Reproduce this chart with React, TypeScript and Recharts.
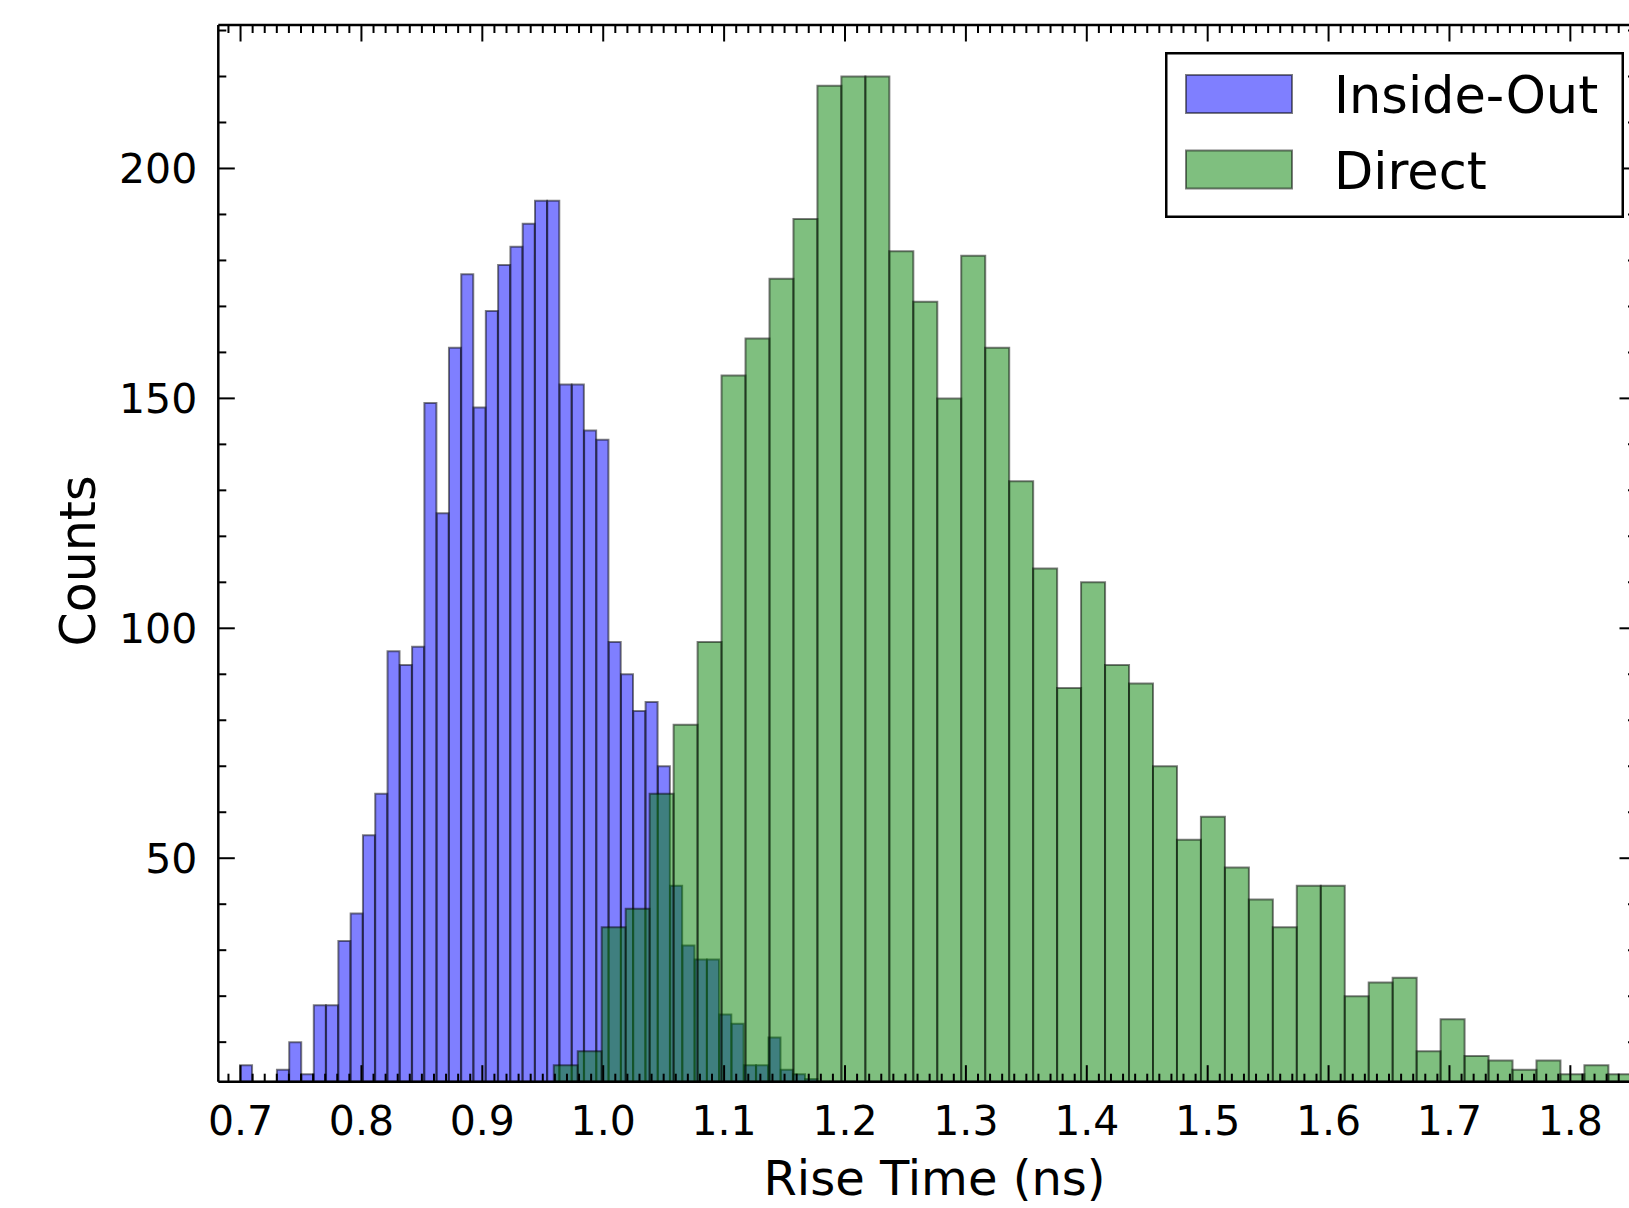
import React from "react";
import { BarChart, Bar, XAxis, YAxis } from "recharts";

// histogram bins
const insideOutStart = 0.6996;
const insideOutWidth = 0.010165;
const insideOutCounts = [
  5, 0, 0, 4, 10, 3, 18, 18, 32, 38,
  55, 64, 95, 92, 96, 149, 125, 161, 177, 148,
  169, 179, 183, 188, 193, 193, 153, 153, 143, 141,
  97, 90, 82, 84, 70, 44, 31, 28, 28, 16,
  14, 5, 5, 11, 4, 3, 2, 1, 0, 1,
];

const directStart = 0.9591;
const directWidth = 0.019826;
const directCounts = [
  5, 8, 35, 39, 64, 79, 97, 155, 163, 176,
  189, 218, 220, 220, 182, 171, 150, 181, 161, 132,
  113, 87, 110, 92, 88, 70, 54, 59, 48, 41,
  35, 44, 44, 20, 23, 24, 8, 15, 7, 6,
  4, 6, 3, 5, 3,
];

const seriesNames = ["Inside-Out", "Direct"];

const xMajorTicks = [0.7, 0.8, 0.9, 1.0, 1.1, 1.2, 1.3, 1.4, 1.5, 1.6, 1.7, 1.8];
const xTickLabels = ["0.7", "0.8", "0.9", "1.0", "1.1", "1.2", "1.3", "1.4", "1.5", "1.6", "1.7", "1.8"];
const yMajorTicks = [50, 100, 150, 200];
const yTickLabels = ["50", "100", "150", "200"];

const X_DOMAIN: [number, number] = [0.6816, 1.8543];
const Y_DOMAIN: [number, number] = [1.4, 231.2];

const xMinorTicks = Array.from({ length: 117 }, (_, i) => Math.round((0.69 + i * 0.01) * 100) / 100);
const yMinorTicks = Array.from({ length: 23 }, (_, i) => (i + 1) * 10);

const insideOutData = insideOutCounts.map((c, i) => ({
  x: insideOutStart + (i + 0.5) * insideOutWidth,
  count: c,
}));
const directData = directCounts.map((c, i) => ({
  x: directStart + (i + 0.5) * directWidth,
  count: c,
}));

const W = 1700;
const H = 1208;
const FONT = "DejaVu Sans";
const MAJOR = 16.5;
const MINOR = 8;

const majorIndex = (list: number[], v: number) => list.findIndex((t) => Math.abs(t - v) < 1e-6);

function BottomTick(props: any) {
  const { x, y, payload } = props;
  const idx = majorIndex(xMajorTicks, payload.value);
  return (
    <g>
      <line x1={x} x2={x} y1={y} y2={y - (idx >= 0 ? MAJOR : MINOR)} stroke="#000" strokeWidth={2} />
      {idx >= 0 && (
        <text x={x} y={y + 53} textAnchor="middle" fontSize={41} fontFamily={FONT} fill="#000">
          {xTickLabels[idx]}
        </text>
      )}
    </g>
  );
}

function TopTick(props: any) {
  const { x, y, payload } = props;
  const idx = majorIndex(xMajorTicks, payload.value);
  return <line x1={x} x2={x} y1={y} y2={y + (idx >= 0 ? MAJOR : MINOR)} stroke="#000" strokeWidth={2} />;
}

function LeftTick(props: any) {
  const { x, y, payload } = props;
  const idx = majorIndex(yMajorTicks, payload.value);
  return (
    <g>
      <line x1={x} x2={x + (idx >= 0 ? MAJOR : MINOR)} y1={y} y2={y} stroke="#000" strokeWidth={2} />
      {idx >= 0 && (
        <text x={x - 21} y={y + 15} textAnchor="end" fontSize={41} fontFamily={FONT} fill="#000">
          {yTickLabels[idx]}
        </text>
      )}
    </g>
  );
}

function RightTick(props: any) {
  const { x, y, payload } = props;
  const idx = majorIndex(yMajorTicks, payload.value);
  return <line x1={x} x2={x - (idx >= 0 ? MAJOR : MINOR)} y1={y} y2={y} stroke="#000" strokeWidth={2} />;
}

function XTitle() {
  return (
    <text x={934.5} y={1195} textAnchor="middle" fontSize={48} fontFamily={FONT} fill="#000">
      Rise Time (ns)
    </text>
  );
}

function YTitle() {
  return (
    <text x={95} y={561} transform="rotate(-90 95 561)" textAnchor="middle" fontSize={49} fontFamily={FONT} fill="#000">
      Counts
    </text>
  );
}

function axes(visible: boolean) {
  const line = visible ? { stroke: "#000", strokeWidth: 2.5 } : false;
  return [
    <XAxis
      key="xb"
      xAxisId="bottom"
      dataKey="x"
      type="number"
      domain={X_DOMAIN}
      allowDataOverflow
      ticks={xMinorTicks}
      interval={0}
      height={126.3}
      tickSize={0}
      tickMargin={0}
      tickLine={false}
      axisLine={line}
      tick={visible ? BottomTick : false}
      label={visible ? <XTitle /> : undefined}
    />,
    <XAxis
      key="xt"
      xAxisId="top"
      orientation="top"
      dataKey="x"
      type="number"
      domain={X_DOMAIN}
      allowDataOverflow
      ticks={xMinorTicks}
      interval={0}
      height={5}
      tickSize={0}
      tickMargin={0}
      tickLine={false}
      axisLine={line}
      tick={visible ? TopTick : false}
    />,
    <YAxis
      key="yl"
      yAxisId="left"
      type="number"
      domain={Y_DOMAIN}
      allowDataOverflow
      ticks={yMinorTicks}
      interval={0}
      width={218.3}
      tickSize={0}
      tickMargin={0}
      tickLine={false}
      axisLine={line}
      tick={visible ? LeftTick : false}
      label={visible ? <YTitle /> : undefined}
    />,
    <YAxis
      key="yr"
      yAxisId="right"
      orientation="right"
      type="number"
      domain={Y_DOMAIN}
      allowDataOverflow
      ticks={yMinorTicks}
      interval={0}
      width={64}
      tickSize={0}
      tickMargin={0}
      tickLine={false}
      axisLine={line}
      tick={visible ? RightTick : false}
    />,
  ];
}

const layer: React.CSSProperties = { position: "absolute", left: 0, top: 0 };
const margin = { top: 20, right: 0, bottom: 0, left: 0 };

function Legend() {
  const items = [
    { name: seriesNames[0], fill: "#0000ff" },
    { name: seriesNames[1], fill: "#008000" },
  ];
  return (
    <svg style={{ position: "absolute", left: 1165, top: 52 }} width={460} height={168}>
      <rect x={1.25} y={1.25} width={456.5} height={163.5} fill="#fff" stroke="#000" strokeWidth={2.5} />
      {items.map((it, i) => (
        <g key={it.name}>
          <rect x={21} y={23 + i * 75.5} width={106} height={38} fill={it.fill} fillOpacity={0.5} stroke="#000" strokeOpacity={0.5} strokeWidth={2} />
          <text x={169} y={61 + i * 75.5} fontSize={51} fontFamily={FONT} fill="#000">
            {it.name}
          </text>
        </g>
      ))}
    </svg>
  );
}

export default function App() {
  return (
    <div style={{ position: "fixed", left: 0, top: 0, width: 1629, height: 1208, overflow: "hidden", background: "#fff", fontFamily: FONT }}>
      <div style={layer}>
        <BarChart width={W} height={H} data={insideOutData} margin={margin} barCategoryGap={0} barGap={0}>
          <Bar
            dataKey="count"
            xAxisId="bottom"
            yAxisId="left"
            fill="#0000ff"
            fillOpacity={0.5}
            stroke="#000"
            strokeOpacity={0.5}
            strokeWidth={2}
            isAnimationActive={false}
          />
          {axes(false)}
        </BarChart>
      </div>
      <div style={layer}>
        <BarChart width={W} height={H} data={directData} margin={margin} barCategoryGap={0} barGap={0}>
          <Bar
            dataKey="count"
            xAxisId="bottom"
            yAxisId="left"
            fill="#008000"
            fillOpacity={0.5}
            stroke="#000"
            strokeOpacity={0.5}
            strokeWidth={2}
            isAnimationActive={false}
          />
          {axes(true)}
        </BarChart>
      </div>
      <Legend />
    </div>
  );
}
